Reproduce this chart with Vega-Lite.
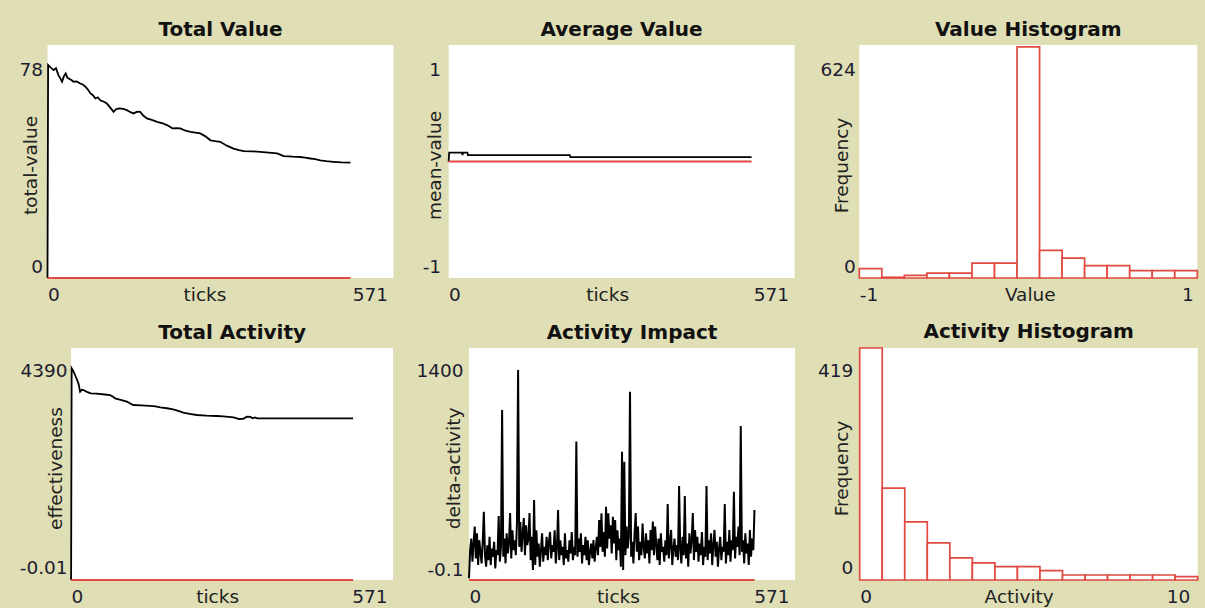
{
  "$schema": "https://vega.github.io/schema/vega-lite/v6.json",
  "background": "#dfdeb4",
  "padding": {"left": 0, "top": 20, "right": 9, "bottom": 2},
  "config": {
    "view": {"fill": "white", "stroke": null},
    "font": "DejaVu Sans",
    "axis": {"grid": false, "domain": false, "ticks": false, "tickSize": 0, "labelFont": "DejaVu Sans", "labelFontSize": 18.5, "labelColor": "#1c1c30", "titleFont": "DejaVu Sans", "titleFontSize": 18.5, "titleFontWeight": "normal", "titleColor": "#222222", "labelExpr": "replace(format(datum.value, ''), '\u2212', '-')"},
    "axisX": {"labelFlush": true, "labelBaseline": "alphabetic", "labelPadding": 22, "titleY": 22, "titleBaseline": "alphabetic", "titleAlign": "center", "titleAngle": 0},
    "axisY": {"labelFlush": false, "labelBaseline": "middle", "titleY": 120, "titleAngle": 270, "titleBaseline": "middle", "titleAlign": "center"},
    "title": {"font": "DejaVu Sans", "fontSize": 20, "fontWeight": "bold", "color": "#111111", "frame": "group", "anchor": "middle", "baseline": "alphabetic", "offset": 5}
  },
  "datasets": {
    "empty": [],
    "zeroLine": [{"tick": 0, "v": 0}, {"tick": 500, "v": 0}],
    "totalValue": [
      {"tick": 0, "v": 0}, {"tick": 1, "v": 71.3}, {"tick": 5, "v": 70.5}, {"tick": 10, "v": 69.6}, {"tick": 14, "v": 70.2}, {"tick": 18, "v": 67.9}, {"tick": 22, "v": 66.5}, {"tick": 24, "v": 65.7}, {"tick": 27, "v": 67.5}, {"tick": 30, "v": 68.5}, {"tick": 33, "v": 67}, {"tick": 35, "v": 66.8}, {"tick": 40, "v": 66.2}, {"tick": 43, "v": 65.7}, {"tick": 48, "v": 65.8}, {"tick": 54, "v": 65.1}, {"tick": 58, "v": 64.8}, {"tick": 63, "v": 64}, {"tick": 67, "v": 63}, {"tick": 71, "v": 61.8}, {"tick": 75, "v": 61.2}, {"tick": 79, "v": 60.1}, {"tick": 83, "v": 60.5}, {"tick": 87, "v": 59.5}, {"tick": 93, "v": 59}, {"tick": 98, "v": 58.4}, {"tick": 103, "v": 57.2}, {"tick": 109, "v": 55.6}, {"tick": 113, "v": 56.5}, {"tick": 118, "v": 56.8}, {"tick": 125, "v": 56.6}, {"tick": 131, "v": 56.2}, {"tick": 137, "v": 55.5}, {"tick": 142, "v": 55.1}, {"tick": 148, "v": 55.7}, {"tick": 153, "v": 55.6}, {"tick": 158, "v": 54.4}, {"tick": 164, "v": 53.4}, {"tick": 172, "v": 52.9}, {"tick": 181, "v": 52.3}, {"tick": 190, "v": 51.8}, {"tick": 197, "v": 51.2}, {"tick": 202, "v": 50.6}, {"tick": 206, "v": 50.1}, {"tick": 213, "v": 50.2}, {"tick": 219, "v": 50.1}, {"tick": 228, "v": 49.3}, {"tick": 236, "v": 48.9}, {"tick": 244, "v": 48.7}, {"tick": 252, "v": 48.4}, {"tick": 260, "v": 47.5}, {"tick": 269, "v": 46.1}, {"tick": 277, "v": 45.8}, {"tick": 285, "v": 45.6}, {"tick": 296, "v": 44.3}, {"tick": 307, "v": 43.3}, {"tick": 316, "v": 42.8}, {"tick": 324, "v": 42.5}, {"tick": 338, "v": 42.4}, {"tick": 351, "v": 42.2}, {"tick": 365, "v": 42}, {"tick": 379, "v": 41.7}, {"tick": 385, "v": 41.2}, {"tick": 390, "v": 40.8}, {"tick": 405, "v": 40.6}, {"tick": 417, "v": 40.5}, {"tick": 425, "v": 40.3}, {"tick": 434, "v": 40}, {"tick": 442, "v": 39.8}, {"tick": 450, "v": 39.4}, {"tick": 460, "v": 39.1}, {"tick": 472, "v": 38.9}, {"tick": 485, "v": 38.7}, {"tick": 500, "v": 38.6}
    ],
    "avgValue": [
      {"tick": 0, "v": 0}, {"tick": 1, "v": 0.077}, {"tick": 22, "v": 0.077}, {"tick": 23, "v": 0.055}, {"tick": 24, "v": 0.077}, {"tick": 31, "v": 0.077}, {"tick": 32, "v": 0.055}, {"tick": 200, "v": 0.055}, {"tick": 201, "v": 0.038}, {"tick": 500, "v": 0.038}
    ],
    "valueHist": [
      {"lo": -1, "hi": -0.8667, "n": 25}, {"lo": -0.8667, "hi": -0.7333, "n": 2}, {"lo": -0.7333, "hi": -0.6, "n": 7}, {"lo": -0.6, "hi": -0.4667, "n": 13}, {"lo": -0.4667, "hi": -0.3333, "n": 13}, {"lo": -0.3333, "hi": -0.2, "n": 40}, {"lo": -0.2, "hi": -0.0667, "n": 40}, {"lo": -0.0667, "hi": 0.0667, "n": 619}, {"lo": 0.0667, "hi": 0.2, "n": 74}, {"lo": 0.2, "hi": 0.3333, "n": 53}, {"lo": 0.3333, "hi": 0.4667, "n": 33}, {"lo": 0.4667, "hi": 0.6, "n": 33}, {"lo": 0.6, "hi": 0.7333, "n": 20}, {"lo": 0.7333, "hi": 0.8667, "n": 20}, {"lo": 0.8667, "hi": 1, "n": 20}
    ],
    "totalActivity": [
      {"tick": 0, "v": 0}, {"tick": 1, "v": 4006}, {"tick": 4, "v": 3950}, {"tick": 7, "v": 3879}, {"tick": 10, "v": 3800}, {"tick": 13, "v": 3722}, {"tick": 16, "v": 3563}, {"tick": 19, "v": 3600}, {"tick": 22, "v": 3595}, {"tick": 28, "v": 3560}, {"tick": 35, "v": 3533}, {"tick": 45, "v": 3525}, {"tick": 60, "v": 3510}, {"tick": 69, "v": 3500}, {"tick": 74, "v": 3470}, {"tick": 78, "v": 3438}, {"tick": 88, "v": 3410}, {"tick": 99, "v": 3374}, {"tick": 105, "v": 3340}, {"tick": 110, "v": 3311}, {"tick": 125, "v": 3305}, {"tick": 146, "v": 3292}, {"tick": 152, "v": 3280}, {"tick": 158, "v": 3268}, {"tick": 170, "v": 3250}, {"tick": 181, "v": 3230}, {"tick": 190, "v": 3200}, {"tick": 199, "v": 3166}, {"tick": 210, "v": 3145}, {"tick": 223, "v": 3122}, {"tick": 240, "v": 3110}, {"tick": 258, "v": 3103}, {"tick": 270, "v": 3095}, {"tick": 288, "v": 3079}, {"tick": 294, "v": 3060}, {"tick": 297, "v": 3047}, {"tick": 305, "v": 3050}, {"tick": 312, "v": 3090}, {"tick": 318, "v": 3085}, {"tick": 322, "v": 3060}, {"tick": 326, "v": 3075}, {"tick": 330, "v": 3060}, {"tick": 400, "v": 3060}, {"tick": 500, "v": 3060}
    ],
    "impact": [
      {"tick": 0, "v": 10}, {"tick": 2, "v": 180}, {"tick": 4, "v": 250}, {"tick": 6, "v": 110}, {"tick": 8, "v": 220}, {"tick": 10, "v": 322}, {"tick": 12, "v": 130}, {"tick": 14, "v": 282}, {"tick": 16, "v": 90}, {"tick": 18, "v": 240},
      {"tick": 20, "v": 170}, {"tick": 22, "v": 100}, {"tick": 24, "v": 230}, {"tick": 26, "v": 412}, {"tick": 28, "v": 150}, {"tick": 30, "v": 80}, {"tick": 32, "v": 210}, {"tick": 34, "v": 120}, {"tick": 36, "v": 260}, {"tick": 38, "v": 90},
      {"tick": 40, "v": 190}, {"tick": 42, "v": 140}, {"tick": 44, "v": 230}, {"tick": 46, "v": 70}, {"tick": 48, "v": 180}, {"tick": 50, "v": 150}, {"tick": 52, "v": 386}, {"tick": 54, "v": 110}, {"tick": 56, "v": 200}, {"tick": 58, "v": 1026},
      {"tick": 60, "v": 140}, {"tick": 62, "v": 250}, {"tick": 64, "v": 100}, {"tick": 66, "v": 282}, {"tick": 68, "v": 160}, {"tick": 70, "v": 220}, {"tick": 72, "v": 404}, {"tick": 74, "v": 130}, {"tick": 76, "v": 300}, {"tick": 78, "v": 180},
      {"tick": 80, "v": 240}, {"tick": 82, "v": 150}, {"tick": 84, "v": 340}, {"tick": 86, "v": 1267}, {"tick": 88, "v": 200}, {"tick": 90, "v": 350}, {"tick": 92, "v": 170}, {"tick": 94, "v": 280}, {"tick": 96, "v": 374}, {"tick": 98, "v": 150},
      {"tick": 100, "v": 330}, {"tick": 102, "v": 210}, {"tick": 104, "v": 250}, {"tick": 106, "v": 404}, {"tick": 108, "v": 120}, {"tick": 110, "v": 260}, {"tick": 112, "v": 60}, {"tick": 114, "v": 483}, {"tick": 116, "v": 90}, {"tick": 118, "v": 300},
      {"tick": 120, "v": 140}, {"tick": 122, "v": 220}, {"tick": 124, "v": 80}, {"tick": 126, "v": 180}, {"tick": 128, "v": 282}, {"tick": 130, "v": 110}, {"tick": 132, "v": 200}, {"tick": 134, "v": 150}, {"tick": 136, "v": 260}, {"tick": 138, "v": 120},
      {"tick": 140, "v": 230}, {"tick": 142, "v": 290}, {"tick": 144, "v": 130}, {"tick": 146, "v": 210}, {"tick": 148, "v": 170}, {"tick": 150, "v": 300}, {"tick": 152, "v": 100}, {"tick": 154, "v": 190}, {"tick": 156, "v": 422}, {"tick": 158, "v": 120},
      {"tick": 160, "v": 240}, {"tick": 162, "v": 150}, {"tick": 164, "v": 200}, {"tick": 166, "v": 90}, {"tick": 168, "v": 282}, {"tick": 170, "v": 130}, {"tick": 172, "v": 180}, {"tick": 174, "v": 110}, {"tick": 176, "v": 240}, {"tick": 178, "v": 160},
      {"tick": 180, "v": 290}, {"tick": 182, "v": 120}, {"tick": 184, "v": 200}, {"tick": 186, "v": 150}, {"tick": 188, "v": 835}, {"tick": 190, "v": 140}, {"tick": 192, "v": 250}, {"tick": 194, "v": 170}, {"tick": 196, "v": 282}, {"tick": 198, "v": 100},
      {"tick": 200, "v": 210}, {"tick": 202, "v": 150}, {"tick": 204, "v": 260}, {"tick": 206, "v": 120}, {"tick": 208, "v": 240}, {"tick": 210, "v": 90}, {"tick": 212, "v": 170}, {"tick": 214, "v": 220}, {"tick": 216, "v": 130}, {"tick": 218, "v": 241},
      {"tick": 220, "v": 110}, {"tick": 222, "v": 190}, {"tick": 224, "v": 260}, {"tick": 226, "v": 150}, {"tick": 228, "v": 362}, {"tick": 230, "v": 200}, {"tick": 232, "v": 402}, {"tick": 234, "v": 170}, {"tick": 236, "v": 290}, {"tick": 238, "v": 140},
      {"tick": 240, "v": 442}, {"tick": 242, "v": 190}, {"tick": 244, "v": 402}, {"tick": 246, "v": 250}, {"tick": 248, "v": 330}, {"tick": 250, "v": 160}, {"tick": 252, "v": 382}, {"tick": 254, "v": 220}, {"tick": 256, "v": 362}, {"tick": 258, "v": 120},
      {"tick": 260, "v": 300}, {"tick": 262, "v": 180}, {"tick": 264, "v": 250}, {"tick": 266, "v": 80}, {"tick": 268, "v": 774}, {"tick": 270, "v": 60}, {"tick": 272, "v": 714}, {"tick": 274, "v": 150}, {"tick": 276, "v": 322}, {"tick": 278, "v": 190},
      {"tick": 280, "v": 260}, {"tick": 282, "v": 1136}, {"tick": 284, "v": 140}, {"tick": 286, "v": 230}, {"tick": 288, "v": 100}, {"tick": 290, "v": 280}, {"tick": 292, "v": 404}, {"tick": 294, "v": 170}, {"tick": 296, "v": 322}, {"tick": 298, "v": 120},
      {"tick": 300, "v": 230}, {"tick": 302, "v": 150}, {"tick": 304, "v": 340}, {"tick": 306, "v": 200}, {"tick": 308, "v": 130}, {"tick": 310, "v": 282}, {"tick": 312, "v": 160}, {"tick": 314, "v": 240}, {"tick": 316, "v": 100}, {"tick": 318, "v": 302},
      {"tick": 320, "v": 180}, {"tick": 322, "v": 352}, {"tick": 324, "v": 150}, {"tick": 326, "v": 322}, {"tick": 328, "v": 210}, {"tick": 330, "v": 120}, {"tick": 332, "v": 250}, {"tick": 334, "v": 90}, {"tick": 336, "v": 282}, {"tick": 338, "v": 170},
      {"tick": 340, "v": 200}, {"tick": 342, "v": 110}, {"tick": 344, "v": 240}, {"tick": 346, "v": 150}, {"tick": 348, "v": 459}, {"tick": 350, "v": 130}, {"tick": 352, "v": 220}, {"tick": 354, "v": 302}, {"tick": 356, "v": 90}, {"tick": 358, "v": 190},
      {"tick": 360, "v": 250}, {"tick": 362, "v": 140}, {"tick": 364, "v": 210}, {"tick": 366, "v": 120}, {"tick": 368, "v": 567}, {"tick": 370, "v": 180}, {"tick": 372, "v": 100}, {"tick": 374, "v": 260}, {"tick": 376, "v": 150}, {"tick": 378, "v": 507},
      {"tick": 380, "v": 130}, {"tick": 382, "v": 220}, {"tick": 384, "v": 80}, {"tick": 386, "v": 282}, {"tick": 388, "v": 160}, {"tick": 390, "v": 240}, {"tick": 392, "v": 404}, {"tick": 394, "v": 120}, {"tick": 396, "v": 302}, {"tick": 398, "v": 170},
      {"tick": 400, "v": 260}, {"tick": 402, "v": 110}, {"tick": 404, "v": 220}, {"tick": 406, "v": 150}, {"tick": 408, "v": 290}, {"tick": 410, "v": 90}, {"tick": 412, "v": 200}, {"tick": 414, "v": 140}, {"tick": 416, "v": 567}, {"tick": 418, "v": 120},
      {"tick": 420, "v": 240}, {"tick": 422, "v": 160}, {"tick": 424, "v": 282}, {"tick": 426, "v": 90}, {"tick": 428, "v": 210}, {"tick": 430, "v": 302}, {"tick": 432, "v": 140}, {"tick": 434, "v": 230}, {"tick": 436, "v": 80}, {"tick": 438, "v": 190},
      {"tick": 440, "v": 260}, {"tick": 442, "v": 120}, {"tick": 444, "v": 200}, {"tick": 446, "v": 170}, {"tick": 448, "v": 459}, {"tick": 450, "v": 100}, {"tick": 452, "v": 230}, {"tick": 454, "v": 150}, {"tick": 456, "v": 302}, {"tick": 458, "v": 110},
      {"tick": 460, "v": 240}, {"tick": 462, "v": 180}, {"tick": 464, "v": 533}, {"tick": 466, "v": 130}, {"tick": 468, "v": 260}, {"tick": 470, "v": 200}, {"tick": 472, "v": 322}, {"tick": 474, "v": 150}, {"tick": 476, "v": 929}, {"tick": 478, "v": 170},
      {"tick": 480, "v": 240}, {"tick": 482, "v": 100}, {"tick": 484, "v": 282}, {"tick": 486, "v": 160}, {"tick": 488, "v": 220}, {"tick": 490, "v": 90}, {"tick": 492, "v": 302}, {"tick": 494, "v": 140}, {"tick": 496, "v": 250}, {"tick": 498, "v": 180},
      {"tick": 500, "v": 422}
    ],
    "activityHist": [
      {"lo": 0, "hi": 0.6667, "n": 419}, {"lo": 0.6667, "hi": 1.3333, "n": 166}, {"lo": 1.3333, "hi": 2, "n": 105}, {"lo": 2, "hi": 2.6667, "n": 67}, {"lo": 2.6667, "hi": 3.3333, "n": 40}, {"lo": 3.3333, "hi": 4, "n": 31}, {"lo": 4, "hi": 4.6667, "n": 24}, {"lo": 4.6667, "hi": 5.3333, "n": 24}, {"lo": 5.3333, "hi": 6, "n": 17}, {"lo": 6, "hi": 6.6667, "n": 9}, {"lo": 6.6667, "hi": 7.3333, "n": 9}, {"lo": 7.3333, "hi": 8, "n": 9}, {"lo": 8, "hi": 8.6667, "n": 9}, {"lo": 8.6667, "hi": 9.3333, "n": 9}, {"lo": 9.3333, "hi": 10, "n": 6}
    ]
  },
  "spacing": 18,
  "vconcat": [
    {
      "spacing": 17.5,
      "hconcat": [
        {"width": 1, "height": 1, "view": {"fill": null, "stroke": null}, "data": {"name": "empty"}, "mark": "point", "encoding": {}},
        {
          "spacing": 28.1,
          "hconcat": [
            {
              "width": 346, "height": 233,
              "title": "Total Value",
              "encoding": {
                "x": {"field": "tick", "type": "quantitative", "scale": {"domain": [0, 571], "nice": false, "zero": false}, "axis": {"title": "ticks", "values": [0, 571], "titleX": 157, "labelOffset": {"condition": {"test": "datum.value > 0", "value": -6}, "value": 0}}},
                "y": {"field": "v", "type": "quantitative", "scale": {"domain": [0, 78], "nice": false, "zero": false}, "axis": {"title": "total-value", "values": [0, 78], "labelPadding": 5, "titleX": -17.5, "labelOffset": {"condition": {"test": "datum.value > 0", "value": 24}, "value": -12}}}
              },
              "layer": [
                {"data": {"name": "totalValue"}, "mark": {"type": "line", "color": "#000000", "strokeWidth": 1.8}},
                {"data": {"name": "zeroLine"}, "mark": {"type": "line", "color": "#e04a40", "strokeWidth": 2}}
              ]
            },
            {
              "spacing": 24.7,
              "hconcat": [
                {
                  "width": 346, "height": 233,
                  "title": "Average Value",
                  "encoding": {
                    "x": {"field": "tick", "type": "quantitative", "scale": {"domain": [0, 571], "nice": false, "zero": false}, "axis": {"title": "ticks", "values": [0, 571], "titleX": 158.5, "labelOffset": {"condition": {"test": "datum.value > 0", "value": -6}, "value": 0}}},
                    "y": {"field": "v", "type": "quantitative", "scale": {"domain": [-1, 1], "nice": false, "zero": false}, "axis": {"title": "mean-value", "values": [-1, 1], "labelPadding": 8, "titleX": -14.5, "labelOffset": {"condition": {"test": "datum.value > 0", "value": 24}, "value": -12}}}
                  },
                  "layer": [
                    {"data": {"name": "avgValue"}, "mark": {"type": "line", "color": "#000000", "strokeWidth": 1.8}},
                    {"data": {"name": "zeroLine"}, "mark": {"type": "line", "color": "#e04a40", "strokeWidth": 2}}
                  ]
                },
                {
                  "width": 338, "height": 233,
                  "title": "Value Histogram",
                  "data": {"name": "valueHist"},
                  "mark": {"type": "rect", "fill": "#ffffff", "stroke": "#e04a40", "strokeWidth": 1.7},
                  "encoding": {
                    "x": {"field": "lo", "type": "quantitative", "scale": {"domain": [-1, 1], "nice": false, "zero": false}, "axis": {"title": "Value", "values": [-1, 1], "titleX": 170.5, "labelOffset": {"condition": {"test": "datum.value > 0", "value": -4}, "value": 0}}},
                    "x2": {"field": "hi"},
                    "y": {"field": "n", "type": "quantitative", "scale": {"domain": [0, 624], "nice": false, "zero": false}, "axis": {"title": "Frequency", "values": [0, 624], "labelPadding": 4, "titleX": -18, "labelOffset": {"condition": {"test": "datum.value > 0", "value": 24}, "value": -12}}},
                    "y2": {"datum": 0}
                  }
                }
              ]
            }
          ]
        }
      ]
    },
    {
      "spacing": 18.1,
      "hconcat": [
        {"width": 1, "height": 1, "view": {"fill": null, "stroke": null}, "data": {"name": "empty"}, "mark": "point", "encoding": {}},
        {
          "spacing": 21.9,
          "hconcat": [
            {
              "width": 322, "height": 232,
              "title": "Total Activity",
              "encoding": {
                "x": {"field": "tick", "type": "quantitative", "scale": {"domain": [0, 571], "nice": false, "zero": false}, "axis": {"title": "ticks", "values": [0, 571], "titleX": 146, "labelOffset": {"condition": {"test": "datum.value > 0", "value": -6}, "value": 0}}},
                "y": {"field": "v", "type": "quantitative", "scale": {"domain": [-0.01, 4390], "nice": false, "zero": false}, "axis": {"title": "effectiveness", "values": [-0.01, 4390], "labelPadding": 4, "titleX": -16, "labelOffset": {"condition": {"test": "datum.value > 0", "value": 22}, "value": -13}}}
              },
              "layer": [
                {"data": {"name": "totalActivity"}, "mark": {"type": "line", "color": "#000000", "strokeWidth": 1.8}},
                {"data": {"name": "zeroLine"}, "mark": {"type": "line", "color": "#e04a40", "strokeWidth": 2}}
              ]
            },
            {
              "spacing": 21.7,
              "hconcat": [
                {
                  "width": 326, "height": 232,
                  "title": "Activity Impact",
                  "encoding": {
                    "x": {"field": "tick", "type": "quantitative", "scale": {"domain": [0, 571], "nice": false, "zero": false}, "axis": {"title": "ticks", "values": [0, 571], "titleX": 149, "labelOffset": {"condition": {"test": "datum.value > 0", "value": -6}, "value": 0}}},
                    "y": {"field": "v", "type": "quantitative", "scale": {"domain": [-0.1, 1400], "nice": false, "zero": false}, "axis": {"title": "delta-activity", "values": [-0.1, 1400], "labelPadding": 6, "titleX": -16, "labelOffset": {"condition": {"test": "datum.value > 0", "value": 22}, "value": -11}}}
                  },
                  "layer": [
                    {"data": {"name": "impact"}, "mark": {"type": "line", "color": "#000000", "strokeWidth": 2}},
                    {"data": {"name": "zeroLine"}, "mark": {"type": "line", "color": "#e04a40", "strokeWidth": 2}}
                  ]
                },
                {
                  "width": 338, "height": 232,
                  "title": "Activity Histogram",
                  "data": {"name": "activityHist"},
                  "mark": {"type": "rect", "fill": "#ffffff", "stroke": "#e04a40", "strokeWidth": 1.7},
                  "encoding": {
                    "x": {"field": "lo", "type": "quantitative", "scale": {"domain": [0, 10], "nice": false, "zero": false}, "axis": {"title": "Activity", "values": [0, 10], "titleX": 159, "labelOffset": {"condition": {"test": "datum.value > 0", "value": -8}, "value": 0}}},
                    "x2": {"field": "hi"},
                    "y": {"field": "n", "type": "quantitative", "scale": {"domain": [0, 419], "nice": false, "zero": false}, "axis": {"title": "Frequency", "values": [0, 419], "labelPadding": 7, "titleX": -18, "labelOffset": {"condition": {"test": "datum.value > 0", "value": 22}, "value": -13}}},
                    "y2": {"datum": 0}
                  }
                }
              ]
            }
          ]
        }
      ]
    }
  ]
}
